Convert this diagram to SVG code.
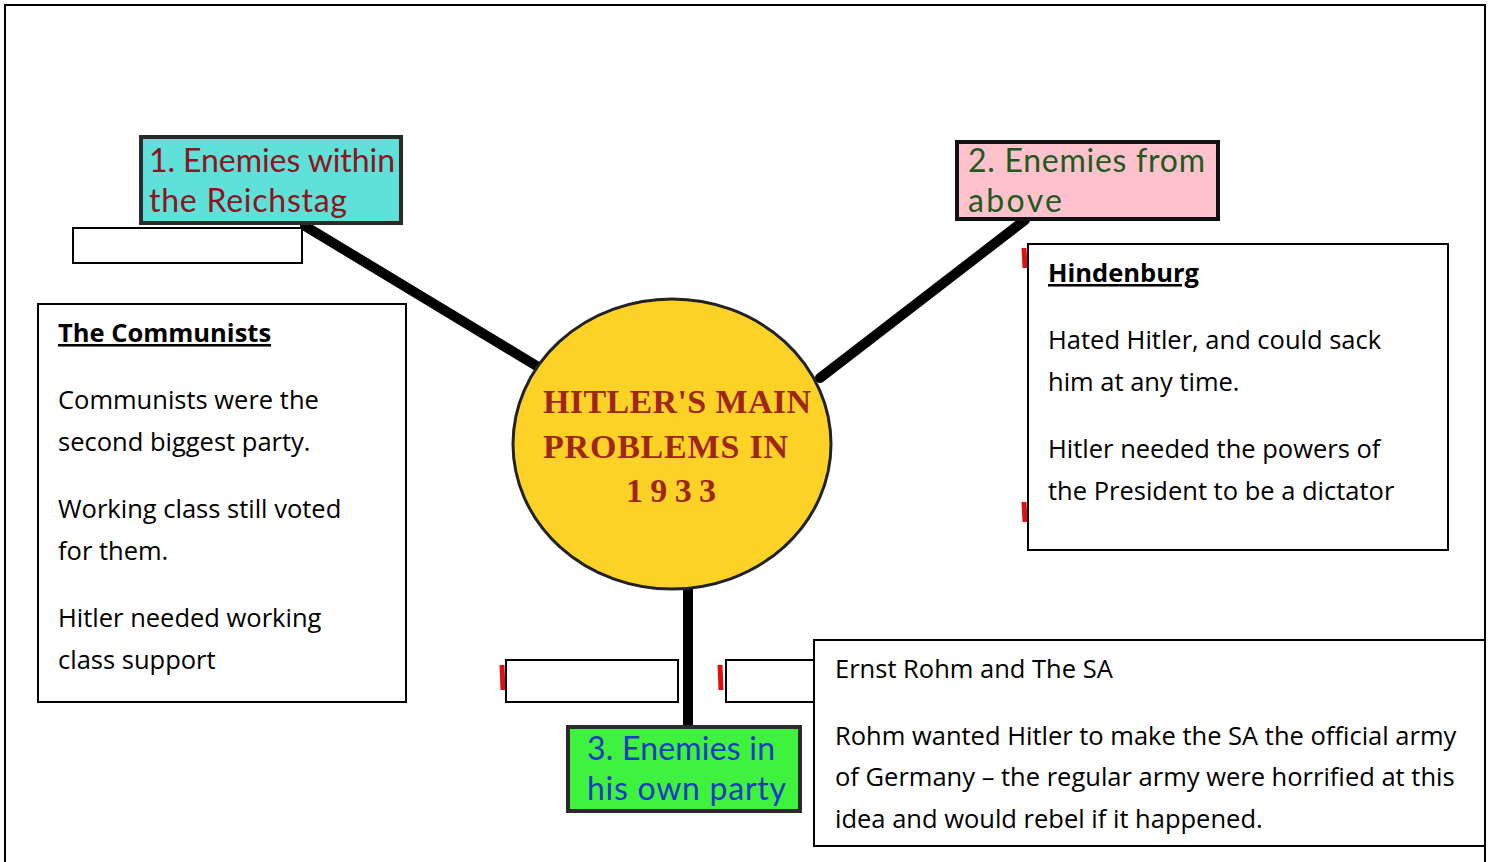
<svg xmlns="http://www.w3.org/2000/svg" width="1488" height="862" viewBox="0 0 1488 862">
<style>
.frame{fill:none;stroke:#000;stroke-width:2}
.tbox{fill:#fff;stroke:#000;stroke-width:2}
.body{font-family:"Open Sans","Liberation Sans",sans-serif;font-size:25.5px;fill:#000}
.title{font-weight:bold;text-decoration:underline}
.head{font-family:Lato,"Noto Sans",sans-serif;font-size:32px}
.conn{stroke:#000;stroke-width:10;stroke-linecap:round;fill:none}
.red{stroke:#e01010;stroke-width:5;fill:none}
.center{font-family:"Liberation Serif",serif;font-size:34px;font-weight:bold;fill:#a0261a}
</style>
<rect x="0" y="0" width="1488" height="862" fill="#fff"/>
<path class="frame" d="M5,862 V5 H1485 V862"/>
<g id="connectors">
<line class="conn" x1="305" y1="226" x2="540" y2="368"/>
<line class="conn" x1="820" y1="378" x2="1025" y2="220"/>
<line class="conn" x1="688" y1="588" x2="688" y2="728"/>
</g>
<g id="marks">
<line class="red" x1="1024" y1="248" x2="1025" y2="268"/>
<line class="red" x1="1024" y1="502" x2="1025" y2="522"/>
<line class="red" x1="502" y1="665" x2="503" y2="690"/>
<line class="red" x1="720" y1="665" x2="721" y2="690"/>
</g>
<g id="blank1"><rect class="tbox" x="73" y="228" width="229" height="35"/></g>
<g id="blank2"><rect class="tbox" x="506" y="660" width="172" height="42"/></g>
<g id="blank3"><rect class="tbox" x="726" y="660" width="100" height="42"/></g>
<g id="node1">
<rect x="141" y="137" width="260" height="86" fill="#5fe0d8" stroke="#2a2a2a" stroke-width="4"/>
<text class="head" fill="#8b1520"><tspan x="149" y="172" textLength="246">1. Enemies within</tspan><tspan x="149" y="212" textLength="198">the Reichstag</tspan></text>
</g>
<g id="node2">
<rect x="957" y="142" width="261" height="77" fill="#ffc2cc" stroke="#111" stroke-width="4"/>
<text class="head" fill="#1e5a1e"><tspan x="968" y="172" textLength="237">2. Enemies from</tspan><tspan x="968" y="212" textLength="94">above</tspan></text>
</g>
<g id="node3">
<rect x="568" y="727" width="232" height="84" fill="#3ef23e" stroke="#2a2a2a" stroke-width="4"/>
<text class="head" fill="#1a3cc0"><tspan x="587" y="760" textLength="188">3. Enemies in</tspan><tspan x="587" y="800" textLength="199">his own party</tspan></text>
</g>
<g id="center">
<ellipse cx="672" cy="444" rx="159" ry="145" fill="#fdd226" stroke="#222" stroke-width="3"/>
<text class="center"><tspan x="543" y="413" textLength="268">HITLER'S MAIN</tspan><tspan x="543" y="458" textLength="245">PROBLEMS IN</tspan><tspan x="626" y="502" textLength="90">1933</tspan></text>
</g>
<g id="communists">
<rect class="tbox" x="38" y="304" width="368" height="398"/>
<text class="body"><tspan class="title" x="58" y="342">The Communists</tspan><tspan x="58" y="409">Communists were the</tspan><tspan x="58" y="451">second biggest party.</tspan><tspan x="58" y="518">Working class still voted</tspan><tspan x="58" y="560">for them.</tspan><tspan x="58" y="627">Hitler needed working</tspan><tspan x="58" y="669">class support</tspan></text>
</g>
<g id="hindenburg">
<rect class="tbox" x="1028" y="244" width="420" height="306"/>
<text class="body"><tspan class="title" x="1048" y="282">Hindenburg</tspan><tspan x="1048" y="349">Hated Hitler, and could sack</tspan><tspan x="1048" y="391">him at any time.</tspan><tspan x="1048" y="458">Hitler needed the powers of</tspan><tspan x="1048" y="500">the President to be a dictator</tspan></text>
</g>
<g id="rohm">
<rect class="tbox" x="814" y="640" width="671" height="206"/>
<text class="body"><tspan x="835" y="678">Ernst Rohm and The SA</tspan><tspan x="835" y="745">Rohm wanted Hitler to make the SA the official army</tspan><tspan x="835" y="786">of Germany – the regular army were horrified at this</tspan><tspan x="835" y="828">idea and would rebel if it happened.</tspan></text>
</g>
</svg>
